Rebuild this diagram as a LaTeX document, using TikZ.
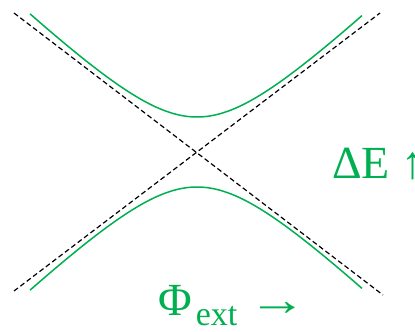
\documentclass[tikz,border=0pt]{standalone}
\usepackage{fontspec}
\setmainfont{Liberation Serif}
\usepackage{tikz}
\usetikzlibrary{arrows.meta, positioning}
\definecolor{level}{RGB}{0,176,80}

\begin{document}
\begin{tikzpicture}[x=10pt,y=-10pt]
			\useasboundingbox (0,0) rectangle (41.5,33.2);
			% uncoupled levels
			\draw[dashed,dash pattern=on 5pt off 3pt,line width=1.2pt] (1.4,1.3) -- (38.3,29.5);
			\draw[dashed,dash pattern=on 5pt off 3pt,line width=1.2pt] (1.4,29.1) -- (38.0,1.3);
			% avoided crossing: upper and lower branch
			\draw[line width=1.5pt,level,domain=3.0:36.2,samples=120,smooth,variable=\x]
				plot ({\x},{19.0-sqrt(7.3^2+(0.96*(\x-19.7))^2)});
			\draw[line width=1.5pt,level,domain=3.0:36.2,samples=120,smooth,variable=\x]
				plot ({\x},{11.4+sqrt(7.3^2+(0.96*(\x-19.7))^2)});
			% labels
			\node[anchor=base west,inner sep=0pt,text=level,font=\fontsize{46}{50}\selectfont] (gap) at (33.2,17.8) {ΔE ↑};
			\node[anchor=base west,inner sep=0pt,text=level,font=\fontsize{46}{50}\selectfont] (flux) at (15.8,31.5)
				{Φ\kern4pt{\fontsize{34}{36}\selectfont\raisebox{-10pt}{ext}} \scalebox{1.27}[1]{→}};
		\end{tikzpicture}
\end{document}
